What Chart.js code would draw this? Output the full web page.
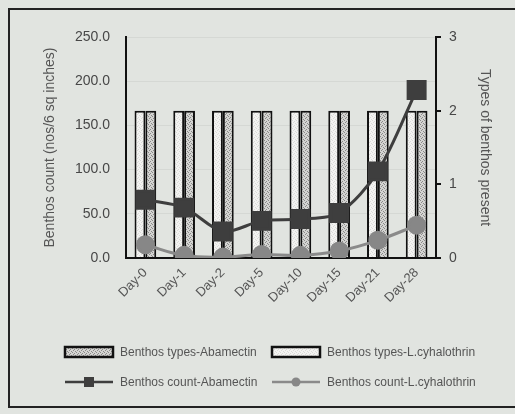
<!DOCTYPE html>
<html>
<head>
<meta charset="utf-8">
<script src="https://cdn.jsdelivr.net/npm/chart.js@4.4.1/dist/chart.umd.min.js"></script>
<style>
html, body { margin: 0; padding: 0; background: #e1e4e0; }
#frame { position: absolute; left: 8px; top: 8px; width: 530px; height: 400px; border: 2px solid #222; box-sizing: border-box; }
#c { position: absolute; left: 0; top: 0; }
</style>
</head>
<body>
<div id="frame"></div>
<canvas id="c" width="515" height="414"></canvas>
<script>
const days = ['Day-0', 'Day-1', 'Day-2', 'Day-5', 'Day-10', 'Day-15', 'Day-21', 'Day-28'];
const typesAbamectin = [2, 2, 2, 2, 2, 2, 2, 2];
const typesLcyhalothrin = [2, 2, 2, 2, 2, 2, 2, 2];
const countAbamectin = [66, 57, 30, 42, 44, 51, 98, 190];
const countLcyhalothrin = [15, 3, 1, 4, 3, 8, 20, 37];

const FONT = '"Liberation Sans", Arial, sans-serif';

// stippled fill like the print
function dots(bg, dot) {
  const c = document.createElement('canvas');
  c.width = 4; c.height = 4;
  const g = c.getContext('2d');
  g.fillStyle = bg;
  g.fillRect(0, 0, 4, 4);
  g.fillStyle = dot;
  g.fillRect(0, 0, 1, 1);
  g.fillRect(2, 1, 1, 1);
  g.fillRect(1, 2, 1, 1);
  g.fillRect(3, 3, 1, 1);
  return g.createPattern(c, 'repeat');
}
const patAbamectin = dots('#d4d4d2', '#8a8a88');
const patLcy = dots('#f3f3f1', '#dadad8');

// legend drawn under the plot, two columns
const legendPlugin = {
  id: 'twoColLegend',
  afterDraw(chart) {
    const ctx = chart.ctx;
    const byLabel = l => chart.data.datasets.find(d => d.label === l);
    const items = [
      ['Benthos types-Abamectin', 65, 352],
      ['Benthos types-L.cyhalothrin', 272, 352],
      ['Benthos count-Abamectin', 65, 382],
      ['Benthos count-L.cyhalothrin', 272, 382]
    ];
    ctx.save();
    items.forEach(([label, x, y]) => {
      const d = byLabel(label);
      if (d.type === 'bar') {
        ctx.fillStyle = d.backgroundColor;
        ctx.fillRect(x, y - 5, 48, 10);
        ctx.strokeStyle = '#111';
        ctx.lineWidth = 2.5;
        ctx.strokeRect(x, y - 5, 48, 10);
      } else {
        ctx.strokeStyle = d.borderColor;
        ctx.lineWidth = 2.5;
        ctx.beginPath();
        ctx.moveTo(x, y);
        ctx.lineTo(x + 48, y);
        ctx.stroke();
        ctx.fillStyle = d.pointBackgroundColor;
        ctx.beginPath();
        if (d.pointStyle === 'rect') ctx.rect(x + 19, y - 5, 10, 10);
        else ctx.arc(x + 24, y, 4.5, 0, Math.PI * 2);
        ctx.fill();
      }
      ctx.fillStyle = '#555';
      ctx.font = '12px ' + FONT;
      ctx.textBaseline = 'middle';
      ctx.fillText(label, x + 55, y + 1);
    });
    ctx.restore();
  }
};

new Chart(document.getElementById('c'), {
  data: {
    labels: days,
    datasets: [
      {
        type: 'line', label: 'Benthos count-Abamectin', data: countAbamectin, yAxisID: 'y',
        borderColor: '#3e3e3e', borderWidth: 3, tension: 0.3,
        pointStyle: 'rect', pointRadius: 12, pointBackgroundColor: '#3e3e3e', pointBorderColor: '#3e3e3e',
        order: 0
      },
      {
        type: 'line', label: 'Benthos count-L.cyhalothrin', data: countLcyhalothrin, yAxisID: 'y',
        borderColor: '#8a8a8a', borderWidth: 3, tension: 0.4,
        pointStyle: 'circle', pointRadius: 8, pointBackgroundColor: '#878787', pointBorderColor: '#878787',
        order: 0
      },
      {
        type: 'bar', label: 'Benthos types-L.cyhalothrin', data: typesLcyhalothrin, yAxisID: 'y1',
        backgroundColor: patLcy, borderColor: '#111', borderWidth: 2,
        barPercentage: 1.0, categoryPercentage: 0.56, order: 1
      },
      {
        type: 'bar', label: 'Benthos types-Abamectin', data: typesAbamectin, yAxisID: 'y1',
        backgroundColor: patAbamectin, borderColor: '#111', borderWidth: 2,
        barPercentage: 1.0, categoryPercentage: 0.56, order: 1
      }
    ]
  },
  options: {
    responsive: false,
    animation: false,
    layout: { padding: { left: 38, right: 18, top: 37, bottom: 90 } },
    plugins: {
      legend: { display: false },
      tooltip: { enabled: false }
    },
    scales: {
      x: {
        grid: { display: false, drawTicks: false },
        border: { color: '#111', width: 2 },
        ticks: { color: '#555', font: { family: FONT, size: 13 }, minRotation: 45, maxRotation: 45, autoSkip: false, padding: 7 },
        afterFit: s => { s.height = 66; }
      },
      y: {
        position: 'left', min: 0, max: 250,
        ticks: { stepSize: 50, color: '#474747', padding: 16, font: { family: FONT, size: 14 }, callback: v => v.toFixed(1) },
        grid: { color: 'rgba(0,0,0,0.05)', drawTicks: false },
        border: { color: '#111', width: 2 },
        title: { display: true, text: 'Benthos count (nos/6 sq inches)', color: '#555', font: { family: FONT, size: 14 }, padding: 4 },
        afterFit: s => { s.width = 88; }
      },
      y1: {
        position: 'right', min: 0, max: 3,
        ticks: { stepSize: 1, color: '#474747', padding: 8, font: { family: FONT, size: 14 } },
        grid: { drawOnChartArea: false, drawTicks: true, tickLength: 5, color: '#111', lineWidth: 2 },
        border: { color: '#111', width: 2 },
        title: { display: true, text: 'Types of benthos present', color: '#555', font: { family: FONT, size: 14 }, padding: 4 },
        afterFit: s => { s.width = 61; }
      }
    }
  },
  plugins: [legendPlugin]
});
</script>
</body>
</html>
